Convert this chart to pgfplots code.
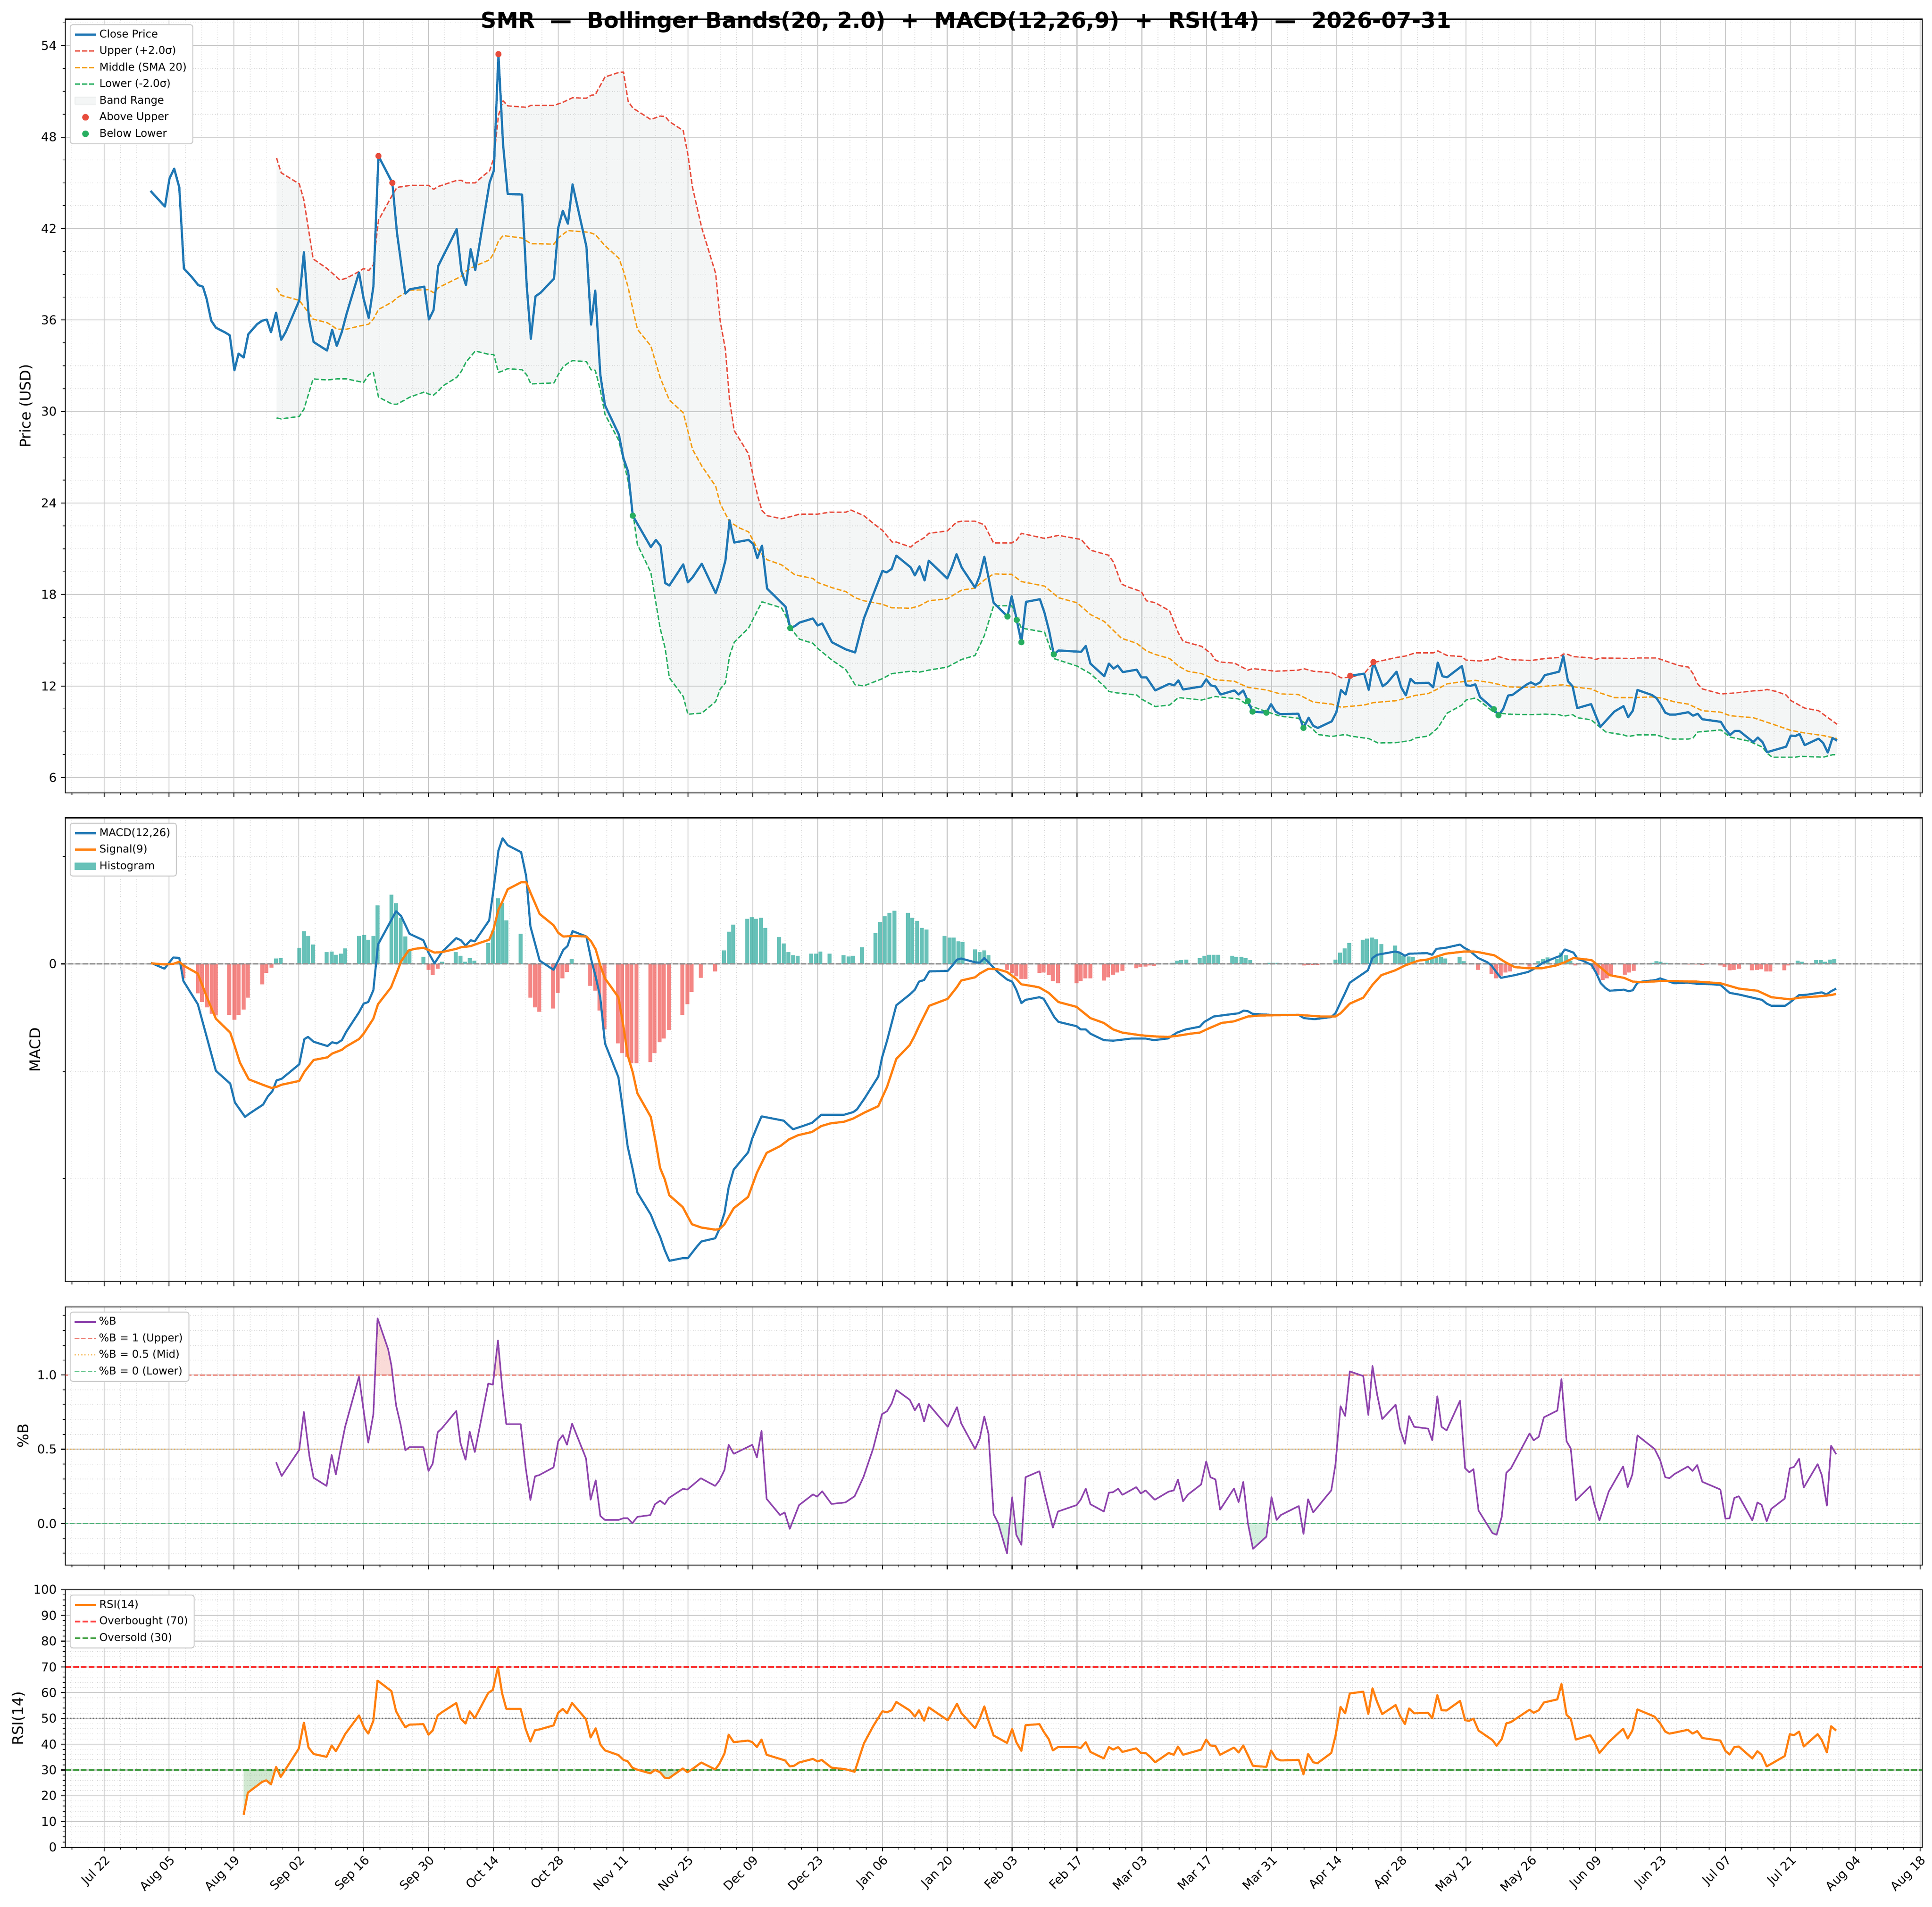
\documentclass[border=0pt]{standalone}
\usepackage{pgfplots}
\pgfplotsset{compat=1.18}
\usepgfplotslibrary{fillbetween}
\usepackage{fontspec}
\setmainfont{DejaVu Sans}

\definecolor{cblue}{HTML}{1F77B4}
\definecolor{corange}{HTML}{FF7F0E}
\definecolor{bred}{HTML}{E74C3C}
\definecolor{borange}{HTML}{F39C12}
\definecolor{bgreen}{HTML}{27AE60}
\definecolor{bandgray}{HTML}{95A5A6}
\definecolor{hteal}{HTML}{26A69A}
\definecolor{hred}{HTML}{EF5350}
\definecolor{purp}{HTML}{8E44AD}
\definecolor{mgreen}{HTML}{008000}

\pgfplotsset{
  base/.style={
    scale only axis, width=1514.9pt,
    xmin=-8.4, xmax=392.5,
    xtick={0,14,...,392},
    minor xtick={-7,-3.5,...,392},
    xticklabels={},
    tick align=outside, tick pos=left,
    major tick length=3.5pt, minor tick length=2pt,
    major tick style={black, line width=0.8pt},
    minor tick style={black, line width=0.6pt},
    grid=both,
    major grid style={black!20, line width=0.8pt},
    minor grid style={black!14, line width=0.5pt, dash pattern=on 0.6pt off 1.4pt},
    axis line style={line width=0.8pt},
    tick label style={font=\fontsize{10}{12}\selectfont},
    /pgf/number format/assume math mode=true,
    label style={font=\fontsize{12}{14}\selectfont},
    legend style={at={(0,1)}, anchor=north west, xshift=3.6pt, yshift=-4pt,
      font=\fontsize{8.7}{10.4}\selectfont, draw=black!20, line width=0.8pt,
      rounded corners=2pt, fill=white, row sep=1.4pt, inner xsep=3pt, inner ysep=2pt},
    legend cell align=left,
    every axis plot/.append style={line join=round},
  },
  bdash/.style={line width=1.1pt, dash pattern=on 4pt off 1.8pt},
}

\begin{document}
\begin{tikzpicture}

% ================= PRICE =================
\begin{axis}[base, at={(53.3pt,909.1pt)}, anchor=south west, height=631.1pt,
  ymin=5.0, ymax=55.73, ytick={6,12,...,54}, minor ytick={6,7.5,...,55.5},
  ylabel={Price (USD)}]
\addlegendimage{cblue, line width=1.8pt}\addlegendentry{Close Price}
\addlegendimage{bred, bdash}\addlegendentry{Upper (+2.0σ)}
\addlegendimage{borange, bdash}\addlegendentry{Middle (SMA 20)}
\addlegendimage{bgreen, bdash}\addlegendentry{Lower (-2.0σ)}
\addlegendimage{area legend, fill=bandgray!10, draw=bandgray!22, line width=0.6pt, rounded corners=0pt}\addlegendentry{Band Range}
\addlegendimage{only marks, mark=*, mark size=2.3pt, color=bred}\addlegendentry{Above Upper}
\addlegendimage{only marks, mark=*, mark size=2.3pt, color=bgreen}\addlegendentry{Below Lower}

\addplot[bred, bdash, name path=up, forget plot] coordinates {
(37.2,46.63) (38.2,45.66) (42.1,44.93) (43.1,43.87) (45.1,40.01) (48.1,39.38) (50.9,38.62) (52.3,38.75)
(55.0,39.18) (56.0,39.38) (57.1,39.25) (58.1,39.62) (59.2,42.54) (62.2,44.20) (63.2,44.70) (66.0,44.83)
(70.1,44.83) (71.1,44.57) (72.1,44.76) (76.1,45.16) (77.1,45.16) (78.1,45.00) (80.1,45.00) (82.1,45.53)
(83.2,45.79) (84.1,46.63) (85.1,49.42) (86.1,50.38) (87.1,50.05) (91.2,49.95) (92.1,50.08) (97.1,50.08)
(99.0,50.28) (101.1,50.58) (104.1,50.55) (105.1,50.74) (106.0,50.78) (108.1,51.94) (111.1,52.24) (112.1,52.27)
(113.1,50.35) (114.1,49.91) (118.0,49.15) (120.0,49.38) (121.1,49.35) (122.0,49.02) (125.0,48.42) (126.0,46.86)
(127.0,44.70) (129.0,42.04) (132.0,39.05) (133.0,35.90) (134.1,34.07) (135.0,30.75) (136.0,28.75) (139.1,27.22)
(140.1,25.76) (141.1,24.43) (142.0,23.50) (143.1,23.17) (146.2,22.97) (148.1,23.10) (150.1,23.27) (154.0,23.27)
(156.6,23.40) (160.1,23.40) (161.2,23.54) (164.0,23.17) (166.0,22.67) (168.0,22.21) (170.1,21.44) (171.0,21.44)
(174.1,21.11) (175.1,21.38) (177.1,21.74) (178.0,22.01) (182.0,22.17) (184.0,22.74) (185.1,22.81) (188.0,22.81)
(190.0,22.57) (192.0,21.38) (195.9,21.38) (197.0,21.58) (198.0,22.01) (203.0,21.68) (206.0,21.88) (210.9,21.61)
(212.9,20.91) (216.8,20.58) (217.9,20.12) (219.6,18.69) (220.8,18.52) (223.9,18.19) (225.0,17.59) (226.9,17.46)
(230.0,16.93) (231.9,15.47) (232.9,14.93) (236.9,14.60) (238.9,14.14) (239.9,13.70) (240.9,13.57) (244.0,13.50)
(246.9,13.04) (248.0,13.14) (250.9,13.04) (252.9,12.97) (257.8,13.04) (258.9,13.14) (261.0,12.97) (265.0,12.87)
(267.0,12.54) (269.0,12.57) (272.0,12.81) (274.0,13.54) (276.0,13.67) (279.0,13.87) (281.0,13.97) (283.0,14.17)
(286.9,14.17) (287.9,14.30) (289.9,14.00) (293.1,13.93) (294.0,13.70) (297.0,13.64) (300.0,13.77) (301.0,13.93)
(303.1,13.74) (308.0,13.67) (311.0,13.80) (314.1,13.87) (315.0,14.10) (316.0,14.07) (317.0,13.93) (321.0,13.84)
(322.0,13.74) (323.0,13.84) (330.0,13.80) (331.0,13.84) (335.1,13.84) (336.1,13.74) (338.0,13.54) (340.0,13.34)
(342.0,13.24) (343.0,12.81) (344.0,12.14) (345.0,11.81) (349.0,11.48) (352.0,11.54) (356.0,11.68) (358.0,11.71)
(359.0,11.77) (361.0,11.64) (363.1,11.41) (364.1,11.05) (367.1,10.55) (370.1,10.38) (371.1,10.15) (374.1,9.49)
};
\addplot[bgreen, bdash, name path=lo, forget plot] coordinates {
(37.2,29.58) (38.2,29.52) (42.1,29.68) (43.1,30.15) (45.1,32.14) (48.1,32.07) (50.2,32.14) (52.3,32.14)
(55.0,31.97) (56.0,31.91) (57.1,32.41) (58.1,32.57) (59.2,30.95) (62.2,30.48) (63.2,30.48) (66.0,30.95)
(69.1,31.28) (70.1,31.14) (71.1,31.08) (72.1,31.34) (73.1,31.68) (76.1,32.24) (77.1,32.64) (78.1,33.24)
(80.1,33.97) (83.2,33.74) (84.1,33.74) (85.1,32.57) (86.1,32.67) (87.1,32.81) (90.2,32.74) (91.2,32.41)
(92.1,31.81) (97.1,31.88) (98.0,32.41) (99.0,32.91) (100.1,33.17) (101.1,33.34) (104.1,33.27) (105.1,32.74)
(106.0,32.71) (107.1,31.41) (108.1,29.82) (111.1,28.09) (112.1,26.76) (113.1,25.43) (114.1,23.44) (115.1,21.28)
(118.0,19.45) (120.0,15.80) (121.1,14.47) (122.0,12.54) (125.0,11.31) (126.0,10.15) (129.0,10.22) (132.0,10.98)
(133.0,11.81) (134.1,12.21) (135.0,13.97) (136.0,14.87) (139.1,15.80) (140.1,16.40) (142.0,17.52) (146.2,17.13)
(147.1,16.63) (148.1,15.80) (150.1,15.07) (153.0,14.80) (154.0,14.47) (157.1,13.70) (160.1,13.07) (162.1,12.08)
(164.0,12.01) (168.0,12.48) (170.0,12.81) (174.1,12.97) (176.0,12.91) (178.0,13.04) (182.0,13.24) (185.1,13.74)
(188.0,14.00) (190.0,15.30) (192.0,17.26) (195.9,17.26) (198.0,15.80) (203.0,15.53) (205.0,13.80) (210.0,13.31)
(212.9,12.81) (215.9,11.98) (216.9,11.64) (218.8,11.54) (222.9,11.41) (223.9,11.15) (226.9,10.65) (230.0,10.75)
(231.9,11.24) (236.9,11.08) (239.9,11.31) (244.9,11.15) (246.9,10.75) (250.9,10.32) (253.9,10.02) (257.8,9.88)
(261.0,9.15) (262.0,8.82) (265.0,8.69) (268.0,8.82) (269.0,8.72) (273.0,8.55) (275.0,8.26) (279.0,8.29)
(282.0,8.42) (283.0,8.59) (285.9,8.72) (287.9,9.25) (289.9,10.22) (291.9,10.55) (293.1,10.75) (294.0,11.08)
(296.0,11.21) (297.0,11.01) (300.0,10.28) (303.1,10.15) (308.0,10.12) (311.0,10.15) (314.1,10.12) (315.0,10.02)
(317.0,10.12) (318.0,9.92) (321.0,9.78) (323.0,9.28) (324.2,8.98) (328.0,8.79) (329.0,8.69) (331.0,8.79)
(335.1,8.79) (338.0,8.52) (342.0,8.52) (343.0,8.59) (344.0,8.98) (349.0,9.12) (351.0,8.65) (355.0,8.39)
(358.0,7.99) (359.0,7.59) (360.1,7.33) (365.1,7.33) (366.1,7.39) (371.1,7.33) (373.1,7.49) (374.1,7.49)
};
\addplot[fill=bandgray, fill opacity=0.1, draw=none, forget plot] fill between[of=up and lo];
\addplot[borange, bdash, forget plot] coordinates {
(37.2,38.09) (38.2,37.62) (42.1,37.29) (43.1,36.89) (45.1,36.06) (48.1,35.83) (49.2,35.63) (50.2,35.40)
(52.3,35.40) (55.0,35.60) (57.1,35.73) (58.1,36.06) (59.2,36.69) (62.2,37.19) (63.2,37.46) (66.0,37.96)
(70.1,37.99) (71.1,37.79) (72.1,38.12) (76.1,38.72) (77.1,38.88) (78.1,39.22) (80.1,39.55) (83.2,39.95)
(84.1,40.38) (85.1,41.18) (86.1,41.54) (90.2,41.38) (92.1,41.01) (97.1,40.98) (98.0,41.38) (100.1,41.87)
(104.1,41.77) (105.1,41.71) (106.0,41.61) (108.1,40.88) (111.1,40.05) (112.1,39.22) (113.1,38.15) (114.1,36.73)
(115.1,35.40) (118.0,34.30) (120.0,32.24) (122.0,30.75) (125.0,29.92) (127.0,27.52) (129.0,26.43) (132.0,25.10)
(133.0,23.94) (135.0,22.77) (137.1,22.37) (139.1,22.11) (141.1,20.95) (143.1,20.28) (146.2,19.95) (149.1,19.29)
(153.0,19.05) (154.0,18.79) (157.1,18.45) (160.1,18.19) (162.1,17.79) (164.0,17.59) (168.0,17.36) (170.0,17.13)
(174.1,17.10) (176.0,17.26) (178.0,17.59) (182.0,17.72) (185.1,18.29) (188.0,18.42) (190.0,18.95) (192.0,19.35)
(195.9,19.32) (198.0,18.85) (203.0,18.55) (206.0,17.79) (210.0,17.46) (212.9,16.69) (215.9,16.23) (219.6,15.13)
(222.9,14.80) (225.0,14.30) (226.9,14.07) (230.0,13.80) (231.9,13.31) (233.9,12.97) (236.9,12.81) (239.9,12.41)
(244.0,12.31) (246.9,11.91) (250.9,11.74) (253.9,11.48) (257.8,11.44) (261.0,10.95) (265.0,10.81) (267.0,10.61)
(272.0,10.75) (274.0,10.91) (279.0,11.04) (281.0,11.21) (283.0,11.38) (285.9,11.51) (287.9,11.81) (289.9,12.14)
(293.1,12.28) (296.0,12.37) (299.0,12.24) (301.0,12.11) (303.1,11.94) (308.0,11.91) (311.0,11.98) (315.0,12.08)
(318.0,11.91) (321.0,11.81) (323.0,11.54) (326.0,11.24) (330.0,11.24) (334.1,11.28) (336.1,11.21) (339.1,10.95)
(342.0,10.81) (345.0,10.38) (349.0,10.28) (351.0,10.05) (356.0,9.92) (359.0,9.62) (364.1,9.09) (367.1,8.92)
(371.1,8.75) (374.1,8.55)
};
\addplot[cblue, line width=1.8pt, forget plot] coordinates {
(10.0,44.47) (13.1,43.44) (14.1,45.30) (15.1,45.93) (16.2,44.70) (17.2,39.38) (18.9,38.82) (20.3,38.29)
(21.3,38.19) (22.1,37.39) (23.1,35.96) (24.1,35.50) (26.2,35.17) (27.1,35.00) (28.1,32.71) (29.0,33.80)
(30.1,33.54) (31.1,35.07) (33.0,35.73) (34.1,35.96) (35.1,36.03) (36.0,35.20) (37.1,36.49) (38.2,34.70)
(39.2,35.23) (42.1,37.29) (43.1,40.45) (44.2,36.07) (45.2,34.56) (48.1,34.00) (49.2,35.37) (50.2,34.30)
(51.3,35.23) (52.3,36.39) (55.0,39.12) (56.0,37.39) (57.1,36.13) (58.1,38.19) (59.2,46.76) (62.2,45.00)
(63.2,41.71) (65.0,37.73) (66.0,38.02) (69.1,38.19) (70.1,36.03) (71.1,36.66) (72.1,39.55) (76.1,41.97)
(77.1,39.22) (78.1,38.29) (79.1,40.65) (80.1,39.28) (83.2,45.03) (84.1,45.79) (85.1,53.44) (86.1,47.52)
(87.1,44.27) (90.2,44.23) (91.2,38.29) (92.1,34.77) (93.1,37.56) (94.2,37.79) (97.1,38.72) (98.0,42.04)
(99.0,43.17) (100.1,42.31) (101.1,44.90) (104.1,40.81) (105.1,35.70) (106.0,37.93) (107.1,32.41) (108.1,30.41)
(111.1,28.49) (112.1,26.93) (113.1,26.06) (114.1,23.17) (118.0,21.11) (119.1,21.58) (120.1,21.18) (121.1,18.75)
(122.0,18.59) (125.0,19.98) (126.0,18.79) (127.0,19.12) (129.0,20.02) (132.0,18.09) (133.0,18.95) (134.1,20.22)
(135.0,22.87) (136.0,21.41) (139.1,21.58) (140.1,21.31) (141.0,20.38) (142.0,21.21) (143.1,18.39) (147.1,17.19)
(148.1,15.80) (149.1,15.93) (150.1,16.16) (153.0,16.43) (154.0,15.97) (155.0,16.10) (157.1,14.87) (160.1,14.40)
(162.1,14.20) (164.0,16.43) (168.0,19.55) (168.9,19.45) (170.0,19.68) (171.0,20.55) (174.1,19.78) (175.0,19.25)
(176.0,19.85) (177.1,18.92) (178.0,20.22) (182.0,19.05) (183.0,19.78) (184.0,20.65) (185.1,19.78) (188.0,18.45)
(189.0,19.22) (190.0,20.48) (192.0,17.46) (195.0,16.56) (195.9,17.89) (197.0,16.33) (198.0,14.87) (199.0,17.52)
(202.0,17.69) (203.0,16.79) (204.0,15.60) (205.0,14.07) (206.0,14.33) (210.9,14.24) (211.9,14.63) (212.9,13.47)
(215.9,12.64) (216.9,13.47) (217.9,13.14) (218.8,13.34) (219.9,12.91) (222.9,13.07) (223.9,12.57) (225.0,12.57)
(226.9,11.71) (229.9,12.14) (231.0,12.04) (231.9,12.37) (232.9,11.77) (236.9,11.97) (237.9,12.44) (238.9,12.04)
(239.9,11.97) (241.0,11.44) (244.0,11.71) (244.9,11.44) (245.9,11.71) (246.9,11.01) (247.9,10.32) (250.9,10.25)
(251.9,10.81) (252.9,10.32) (253.9,10.15) (257.8,10.18) (258.9,9.25) (260.0,9.92) (261.0,9.39) (262.0,9.25)
(265.0,9.68) (266.0,10.28) (267.0,11.74) (268.0,11.44) (269.0,12.67) (272.0,12.81) (273.0,11.74) (274.0,13.57)
(276.0,11.98) (277.0,12.21) (279.0,12.94) (280.0,11.91) (281.0,11.38) (282.0,12.47) (283.0,12.18) (285.9,12.21)
(286.9,11.91) (287.9,13.54) (288.9,12.64) (289.9,12.57) (293.1,13.31) (294.0,12.04) (295.0,12.01) (296.0,12.11)
(297.0,11.28) (299.0,10.75) (300.0,10.48) (301.0,10.08) (302.0,10.48) (303.1,11.38) (304.0,11.41) (307.0,12.08)
(308.0,12.24) (309.0,12.08) (310.0,12.24) (311.0,12.71) (314.1,12.94) (315.0,13.97) (316.0,12.31) (317.0,11.98)
(318.0,10.55) (321.0,10.81) (322.0,10.05) (323.0,9.32) (326.0,10.32) (328.0,10.68) (329.0,9.95) (330.0,10.38)
(331.0,11.74) (334.1,11.41) (335.1,11.21) (336.1,10.75) (337.0,10.25) (338.0,10.12) (339.1,10.12) (342.0,10.28)
(343.0,10.05) (344.0,10.18) (345.0,9.82) (349.0,9.65) (350.0,9.15) (351.0,8.79) (352.0,9.05) (353.0,9.05)
(356.0,8.32) (357.0,8.62) (358.0,8.32) (359.0,7.66) (363.1,8.02) (364.1,8.75) (365.1,8.72) (366.0,8.85)
(367.1,8.12) (370.1,8.55) (371.1,8.26) (372.1,7.63) (373.1,8.59) (374.1,8.42)
};
\addplot[only marks, mark=*, mark size=2.3pt, color=bred, forget plot] coordinates {
(59.2,46.76) (62.2,45.00) (85.1,53.44) (269.0,12.67) (274.0,13.57)};
\addplot[only marks, mark=*, mark size=2.3pt, color=bgreen, forget plot] coordinates {
(114.1,23.17) (148.1,15.80) (195.0,16.56) (197.0,16.33) (198.0,14.87) (205.0,14.07)
(246.9,11.01) (247.9,10.32) (250.9,10.25) (258.9,9.25) (300.0,10.48) (301.0,10.08)};
\end{axis}

% ================= MACD =================
\begin{axis}[base, at={(53.3pt,510.1pt)}, anchor=south west, height=378.5pt,
  ymin=-5.92, ymax=2.72, ytick={0}, minor ytick={2,-2,-4},
  ylabel={MACD}]
\addlegendimage{cblue, line width=1.8pt}\addlegendentry{MACD(12,26)}
\addlegendimage{corange, line width=1.8pt}\addlegendentry{Signal(9)}
\addlegendimage{area legend, fill=hteal!70, draw=hteal!70, line width=0.4pt, rounded corners=0pt}\addlegendentry{Histogram}

\addplot[ybar, bar width=0.85, bar shift=0pt, draw=none, fill=hteal, fill opacity=0.7, forget plot] coordinates {
(37.1,0.10) (38.1,0.11) (42.1,0.30) (43.1,0.61) (44.0,0.52) (45.1,0.36) (48.0,0.22) (49.1,0.23) (50.0,0.17)
(51.1,0.19) (52.0,0.29) (55.0,0.52) (56.1,0.54) (57.0,0.45) (58.1,0.52) (59.0,1.09) (62.0,1.29) (63.0,1.13)
(64.0,0.86) (65.0,0.51) (65.9,0.25) (68.9,0.13) (72.9,0.04) (75.9,0.22) (76.9,0.15) (77.9,0.04) (78.9,0.11)
(79.9,0.06) (82.9,0.39) (83.9,0.62) (85.0,1.22) (85.9,1.14) (86.8,0.81) (89.9,0.56) (100.9,0.09) (133.8,0.25)
(134.9,0.60) (135.8,0.73) (138.8,0.84) (139.8,0.87) (140.7,0.84) (141.8,0.86) (142.7,0.67) (145.7,0.50)
(146.7,0.38) (147.7,0.22) (148.7,0.16) (149.7,0.15) (152.6,0.19) (153.7,0.19) (154.6,0.23) (156.6,0.19)
(159.6,0.16) (160.7,0.14) (161.6,0.15) (163.6,0.31) (166.5,0.57) (167.5,0.78) (168.5,0.89) (169.5,0.95)
(170.6,0.99) (173.5,0.95) (174.4,0.86) (175.5,0.80) (176.5,0.67) (177.5,0.64) (181.4,0.52) (182.5,0.49)
(183.4,0.49) (184.4,0.42) (185.3,0.41) (188.0,0.27) (189.0,0.22) (190.0,0.25) (190.9,0.16) (230.6,0.02)
(231.6,0.06) (232.5,0.07) (233.6,0.08) (236.5,0.11) (237.5,0.15) (238.5,0.17) (239.5,0.17) (240.5,0.17)
(243.5,0.15) (244.4,0.13) (245.5,0.13) (246.4,0.11) (247.4,0.07) (251.4,0.02) (252.3,0.02) (253.3,0.02)
(265.8,0.08) (266.8,0.21) (267.8,0.29) (268.8,0.39) (271.7,0.45) (272.6,0.47) (273.7,0.49) (274.6,0.46)
(275.7,0.37) (278.7,0.34) (279.6,0.21) (280.5,0.15) (281.6,0.14) (282.5,0.13) (285.6,0.07) (286.6,0.10)
(287.6,0.12) (288.6,0.13) (289.5,0.10) (292.6,0.13) (293.5,0.05) (309.6,0.05) (310.6,0.09) (311.6,0.12)
(313.6,0.09) (314.5,0.21) (315.6,0.16) (316.5,0.06) (334.2,0.02) (335.1,0.05) (336.0,0.04) (337.1,0.02)
(365.6,0.06) (366.5,0.04) (369.6,0.07) (370.6,0.07) (371.5,0.04) (372.6,0.08) (373.5,0.09)
};
\addplot[ybar, bar width=0.85, bar shift=0pt, draw=none, fill=hred, fill opacity=0.7, forget plot] coordinates {
(17.1,-0.27) (20.2,-0.55) (21.1,-0.71) (22.2,-0.81) (23.2,-0.93) (24.1,-0.96) (27.0,-0.95) (28.1,-1.04)
(29.0,-0.95) (30.1,-0.85) (31.0,-0.63) (34.1,-0.38) (35.0,-0.17) (36.1,-0.07) (70.0,-0.11) (70.9,-0.21)
(72.0,-0.09) (92.0,-0.63) (93.0,-0.81) (93.9,-0.89) (96.9,-0.83) (97.9,-0.54) (98.9,-0.27) (99.9,-0.15)
(104.9,-0.41) (106.0,-0.50) (106.9,-0.87) (108.0,-1.22) (110.9,-1.48) (111.8,-1.66) (112.9,-1.73) (113.8,-1.85)
(114.9,-1.85) (117.9,-1.83) (118.8,-1.66) (119.9,-1.46) (120.8,-1.39) (121.9,-1.23) (124.8,-0.95) (125.9,-0.75)
(126.8,-0.52) (128.8,-0.26) (131.9,-0.14) (194.9,-0.11) (196.0,-0.17) (196.9,-0.23) (198.0,-0.28) (198.9,-0.28)
(201.9,-0.17) (202.8,-0.16) (203.9,-0.21) (204.8,-0.32) (205.9,-0.36) (209.9,-0.36) (210.8,-0.32) (211.8,-0.27)
(212.9,-0.27) (215.8,-0.31) (216.7,-0.25) (217.8,-0.20) (218.7,-0.16) (219.8,-0.13) (222.8,-0.08) (223.7,-0.06)
(224.8,-0.05) (225.7,-0.03) (226.6,-0.04) (259.0,-0.03) (259.9,-0.02) (260.9,-0.02) (261.9,-0.02) (296.6,-0.11)
(299.5,-0.19) (300.5,-0.27) (301.5,-0.22) (302.5,-0.16) (303.5,-0.14) (307.7,-0.05) (317.6,-0.03) (321.5,-0.09)
(322.4,-0.21) (323.5,-0.30) (324.4,-0.27) (325.3,-0.21) (328.3,-0.20) (329.2,-0.16) (330.2,-0.13) (341.0,-0.01)
(341.9,-0.01) (343.0,-0.01) (343.9,-0.01) (345.0,-0.02) (348.9,-0.03) (349.8,-0.06) (350.9,-0.12) (351.8,-0.11)
(352.9,-0.09) (355.7,-0.12) (356.8,-0.11) (357.7,-0.10) (358.8,-0.14) (359.7,-0.14) (362.7,-0.12) (363.6,-0.03)
};
\addplot[black!45, line width=1.1pt, dash pattern=on 4pt off 1.8pt, forget plot] coordinates {(-20,0) (400,0)};
\addplot[cblue, line width=1.7pt, forget plot] coordinates {
(10.1,0.02) (13.0,-0.09) (14.9,0.12) (16.2,0.11) (17.1,-0.32) (20.2,-0.75) (24.1,-1.99) (27.2,-2.23)
(28.2,-2.58) (30.4,-2.85) (31.3,-2.79) (34.3,-2.62) (35.3,-2.47) (36.3,-2.37) (37.2,-2.17) (38.3,-2.14)
(42.1,-1.87) (43.2,-1.40) (44.0,-1.36) (45.2,-1.45) (48.2,-1.53) (49.2,-1.46) (50.2,-1.48) (51.3,-1.42)
(52.2,-1.27) (55.0,-0.90) (56.0,-0.74) (57.0,-0.71) (58.1,-0.49) (59.1,0.36) (63.0,0.98) (64.1,0.89)
(65.9,0.56) (68.9,0.44) (70.0,0.21) (71.3,0.01) (72.9,0.22) (76.0,0.48) (77.0,0.44) (78.0,0.34)
(79.1,0.44) (80.0,0.42) (83.1,0.81) (84.0,1.36) (85.1,2.11) (86.0,2.34) (87.1,2.21) (90.0,2.08)
(91.1,1.63) (92.0,0.70) (94.0,0.06) (97.0,-0.11) (98.0,0.06) (99.1,0.26) (100.0,0.33) (101.1,0.61)
(104.1,0.51) (105.1,0.09) (106.1,-0.24) (107.1,-0.63) (108.1,-1.48) (111.0,-2.11) (112.1,-2.80) (113.0,-3.40)
(114.1,-3.83) (115.1,-4.26) (118.0,-4.67) (119.1,-4.91) (120.0,-5.08) (121.0,-5.33) (122.0,-5.53) (124.9,-5.48)
(126.0,-5.48) (127.9,-5.27) (128.9,-5.17) (131.9,-5.11) (132.8,-4.94) (133.9,-4.64) (134.8,-4.16) (135.9,-3.83)
(139.0,-3.51) (139.9,-3.25) (140.9,-3.04) (141.9,-2.84) (146.7,-2.92) (147.8,-3.01) (148.7,-3.08) (150.8,-3.02)
(152.8,-2.96) (154.8,-2.81) (159.7,-2.81) (161.7,-2.76) (162.5,-2.71) (164.1,-2.51) (167.1,-2.10) (167.9,-1.75)
(169.0,-1.43) (171.0,-0.77) (173.9,-0.57) (175.0,-0.48) (175.9,-0.33) (177.0,-0.30) (178.1,-0.14) (182.1,-0.13)
(183.1,-0.03) (184.1,0.08) (185.0,0.10) (188.0,0.03) (189.0,0.02) (190.0,0.11) (190.9,0.03) (192.9,-0.15)
(194.9,-0.29) (196.0,-0.33) (196.9,-0.48) (198.0,-0.73) (198.9,-0.67) (201.9,-0.62) (202.8,-0.65) (203.9,-0.81)
(205.1,-0.99) (206.0,-1.08) (209.9,-1.16) (210.8,-1.22) (211.9,-1.22) (212.9,-1.30) (215.8,-1.42) (217.8,-1.43)
(218.9,-1.42) (221.8,-1.39) (224.8,-1.39) (226.6,-1.42) (229.6,-1.39) (231.6,-1.28) (233.5,-1.22) (236.5,-1.17)
(237.5,-1.08) (239.5,-0.98) (242.1,-0.95) (244.9,-0.92) (246.0,-0.87) (246.9,-0.88) (247.9,-0.93) (251.9,-0.95)
(257.9,-0.95) (259.0,-1.01) (261.3,-1.03) (264.9,-0.99) (265.8,-0.92) (266.9,-0.72) (267.9,-0.54) (268.9,-0.35)
(272.8,-0.12) (273.8,0.11) (274.8,0.17) (278.7,0.23) (279.7,0.21) (280.8,0.15) (281.7,0.19) (285.6,0.20)
(286.7,0.17) (287.6,0.28) (289.6,0.30) (292.7,0.36) (293.6,0.30) (294.7,0.25) (296.6,0.11) (298.6,0.03)
(299.5,-0.03) (300.5,-0.15) (301.5,-0.26) (304.5,-0.21) (307.4,-0.15) (308.5,-0.10) (310.4,0.01) (311.4,0.05)
(313.4,0.12) (314.4,0.15) (315.3,0.27) (317.2,0.21) (318.1,0.09) (319.2,0.06) (321.1,-0.02) (322.1,-0.17)
(323.1,-0.36) (324.1,-0.45) (325.0,-0.50) (328.1,-0.48) (329.1,-0.51) (330.0,-0.49) (331.0,-0.35) (332.0,-0.33)
(335.0,-0.30) (335.9,-0.27) (337.9,-0.33) (338.9,-0.36) (341.9,-0.35) (343.8,-0.37) (344.9,-0.37) (348.9,-0.39)
(350.9,-0.54) (352.9,-0.57) (356.9,-0.65) (357.9,-0.67) (358.9,-0.74) (359.9,-0.78) (362.9,-0.78) (363.9,-0.72)
(365.9,-0.58) (366.8,-0.58) (367.9,-0.57) (370.8,-0.53) (371.8,-0.57) (372.8,-0.51) (373.9,-0.46)
};
\addplot[corange, line width=1.8pt, forget plot] coordinates {
(10.1,0.01) (13.0,-0.01) (14.9,0.00) (16.2,0.04) (17.1,-0.03) (20.2,-0.18) (22.2,-0.63) (24.1,-1.02)
(27.2,-1.28) (28.2,-1.54) (29.3,-1.84) (31.2,-2.15) (34.2,-2.25) (36.1,-2.31) (37.2,-2.29) (38.3,-2.25)
(42.1,-2.18) (43.2,-2.01) (45.2,-1.79) (48.2,-1.74) (49.2,-1.67) (51.3,-1.60) (52.2,-1.54) (55.0,-1.40)
(56.0,-1.30) (58.1,-1.02) (59.1,-0.75) (61.9,-0.44) (63.0,-0.20) (64.1,0.05) (65.7,0.25) (67.0,0.28)
(68.9,0.30) (70.0,0.26) (71.3,0.21) (72.9,0.22) (76.0,0.28) (77.0,0.31) (79.1,0.33) (80.0,0.36)
(83.1,0.45) (84.0,0.63) (85.1,1.01) (86.0,1.17) (87.1,1.39) (90.0,1.52) (91.1,1.52) (92.0,1.33)
(94.0,0.93) (97.0,0.72) (98.0,0.58) (99.1,0.51) (101.1,0.52) (104.1,0.51) (105.1,0.42) (106.1,0.27)
(107.1,-0.03) (108.1,-0.27) (111.0,-0.62) (112.1,-1.17) (113.0,-1.70) (114.1,-2.02) (115.1,-2.41) (118.0,-2.85)
(119.1,-3.34) (120.0,-3.80) (121.0,-4.01) (122.0,-4.31) (124.9,-4.53) (126.0,-4.71) (126.9,-4.85) (128.9,-4.91)
(131.9,-4.95) (132.8,-4.94) (133.9,-4.85) (135.9,-4.55) (139.0,-4.34) (140.9,-3.89) (143.0,-3.52) (146.0,-3.39)
(147.8,-3.27) (149.8,-3.19) (152.8,-3.13) (154.8,-3.02) (156.8,-2.97) (159.7,-2.94) (161.7,-2.88) (164.1,-2.77)
(167.1,-2.65) (169.0,-2.29) (171.0,-1.77) (173.9,-1.51) (175.0,-1.33) (175.9,-1.16) (178.1,-0.78) (182.1,-0.65)
(184.1,-0.43) (185.0,-0.31) (188.0,-0.25) (189.0,-0.18) (190.9,-0.09) (192.9,-0.10) (194.9,-0.15) (196.9,-0.28)
(198.0,-0.38) (200.8,-0.42) (201.9,-0.44) (203.9,-0.54) (206.0,-0.71) (209.9,-0.80) (212.9,-1.01) (215.8,-1.10)
(217.8,-1.22) (219.8,-1.28) (223.8,-1.33) (226.6,-1.35) (229.6,-1.36) (231.6,-1.34) (234.5,-1.30) (236.5,-1.28)
(238.5,-1.20) (241.2,-1.10) (243.9,-1.07) (246.9,-0.98) (249.9,-0.96) (257.9,-0.95) (262.6,-0.98) (265.8,-0.98)
(266.9,-0.92) (268.9,-0.74) (271.8,-0.63) (273.8,-0.39) (275.7,-0.21) (278.7,-0.12) (280.8,-0.03) (283.7,0.06)
(285.6,0.08) (289.6,0.19) (293.6,0.23) (295.6,0.23) (296.6,0.22) (300.1,0.16) (302.5,0.03) (304.5,-0.06)
(307.4,-0.08) (310.4,-0.08) (313.4,-0.03) (315.3,0.03) (317.2,0.11) (321.1,0.07) (323.1,-0.07) (325.0,-0.21)
(328.1,-0.26) (330.0,-0.33) (332.0,-0.34) (335.9,-0.32) (338.9,-0.32) (343.8,-0.33) (348.9,-0.36) (350.9,-0.41)
(352.9,-0.46) (356.9,-0.50) (359.9,-0.62) (363.9,-0.66) (365.9,-0.63) (370.8,-0.60) (372.8,-0.58) (373.9,-0.56)
};
\end{axis}

% ================= %B =================
\begin{axis}[base, at={(53.3pt,279.0pt)}, anchor=south west, height=210.7pt,
  ymin=-0.279, ymax=1.459, ytick={0,0.5,1}, yticklabels={0.0,0.5,1.0},
  minor ytick={-0.2,-0.1,...,1.41},
  ylabel={\%B}]
\addlegendimage{purp, line width=1.3pt}\addlegendentry{\%B}
\addlegendimage{bred, opacity=0.7, line width=1pt, dash pattern=on 3.7pt off 1.6pt}\addlegendentry{\%B = 1 (Upper)}
\addlegendimage{borange, opacity=0.6, line width=1pt, dash pattern=on 1pt off 1.65pt}\addlegendentry{\%B = 0.5 (Mid)}
\addlegendimage{bgreen, opacity=0.7, line width=1pt, dash pattern=on 3.7pt off 1.6pt}\addlegendentry{\%B = 0 (Lower)}

\addplot[draw=none, name path=one, forget plot] coordinates {(37.1,1) (373.9,1)};
\addplot[draw=none, name path=zero, forget plot] coordinates {(37.1,0) (373.9,0)};
\addplot[bred, opacity=0.7, line width=1pt, dash pattern=on 3.7pt off 1.6pt, forget plot] coordinates {(-20,1) (400,1)};
\addplot[borange, opacity=0.6, line width=1pt, dash pattern=on 1pt off 1.65pt, forget plot] coordinates {(-20,0.5) (400,0.5)};
\addplot[bgreen, opacity=0.7, line width=1pt, dash pattern=on 3.7pt off 1.6pt, forget plot] coordinates {(-20,0) (400,0)};
\addplot[purp, line width=1.3pt, name path=pb, forget plot] coordinates {
(37.1,0.412) (38.3,0.320) (42.1,0.496) (43.1,0.752) (44.3,0.451) (45.2,0.308) (48.0,0.253) (49.1,0.462)
(50.0,0.330) (51.1,0.512) (52.0,0.651) (55.0,0.990) (56.1,0.736) (57.0,0.544) (58.1,0.736) (59.0,1.381)
(61.3,1.172) (62.0,1.063) (63.0,0.796) (64.0,0.663) (65.0,0.493) (65.9,0.514) (68.9,0.514) (70.0,0.354)
(70.9,0.402) (72.0,0.615) (72.9,0.641) (76.0,0.758) (76.9,0.542) (78.0,0.429) (78.9,0.619) (80.0,0.481)
(82.9,0.942) (83.9,0.935) (85.0,1.233) (85.9,0.918) (86.8,0.669) (89.9,0.669) (91.0,0.372) (92.0,0.158)
(93.0,0.318) (93.9,0.326) (97.0,0.378) (98.0,0.554) (99.0,0.595) (99.9,0.530) (101.0,0.673) (104.0,0.439)
(105.0,0.160) (106.1,0.291) (107.1,0.051) (108.1,0.024) (111.0,0.024) (112.1,0.036) (113.0,0.036) (114.0,0.002)
(115.1,0.045) (117.9,0.057) (118.9,0.130) (120.0,0.154) (121.0,0.130) (121.9,0.172) (124.9,0.233) (125.9,0.229)
(128.8,0.305) (131.9,0.253) (132.8,0.290) (133.9,0.360) (134.8,0.530) (135.9,0.469) (139.9,0.530) (140.9,0.445)
(141.9,0.624) (143.0,0.166) (145.9,0.057) (146.9,0.075) (148.0,-0.036) (150.0,0.124) (153.0,0.196) (153.9,0.181)
(155.0,0.217) (157.0,0.132) (160.0,0.142) (162.0,0.184) (163.9,0.312) (166.0,0.505) (167.9,0.736) (169.0,0.756)
(170.0,0.808) (171.0,0.899) (173.9,0.833) (175.0,0.762) (175.9,0.808) (177.0,0.687) (178.0,0.802) (182.1,0.651)
(184.1,0.784) (185.0,0.675) (188.0,0.502) (189.0,0.572) (190.0,0.721) (190.9,0.602) (192.0,0.063) (193.0,0.002)
(194.9,-0.201) (196.0,0.178) (196.9,-0.076) (198.0,-0.143) (198.9,0.312) (201.9,0.352) (202.8,0.227) (204.8,-0.028)
(205.9,0.081) (209.9,0.124) (210.8,0.160) (211.9,0.235) (212.9,0.130) (215.8,0.081) (216.9,0.208) (217.8,0.211)
(218.9,0.235) (219.8,0.193) (222.8,0.245) (223.8,0.202) (224.8,0.223) (226.8,0.160) (229.8,0.215) (230.9,0.223)
(231.8,0.296) (232.9,0.150) (234.0,0.196) (236.8,0.263) (237.9,0.418) (238.8,0.312) (239.9,0.297) (240.9,0.093)
(243.9,0.236) (244.9,0.144) (245.9,0.281) (246.9,0.002) (248.0,-0.170) (250.9,-0.088) (252.0,0.178) (253.1,0.024)
(254.0,0.057) (257.9,0.118) (258.9,-0.070) (259.9,0.164) (261.0,0.075) (264.9,0.223) (265.8,0.396) (266.9,0.790)
(267.9,0.724) (268.9,1.024) (271.8,0.993) (272.9,0.730) (273.8,1.061) (274.8,0.869) (275.9,0.703) (278.8,0.800)
(279.7,0.639) (280.8,0.536) (281.7,0.724) (282.8,0.651) (285.8,0.639) (286.7,0.560) (287.8,0.857) (288.7,0.651)
(289.8,0.627) (292.7,0.827) (293.8,0.372) (294.7,0.345) (295.6,0.366) (296.7,0.087) (299.7,-0.064) (300.6,-0.076)
(301.7,0.045) (302.7,0.342) (303.7,0.372) (307.7,0.606) (308.6,0.560) (309.7,0.584) (310.8,0.715) (313.7,0.760)
(314.6,0.972) (315.7,0.554) (316.6,0.505) (317.7,0.156) (320.8,0.251) (321.7,0.130) (322.8,0.021) (324.8,0.215)
(327.9,0.384) (328.9,0.245) (329.9,0.330) (331.0,0.593) (334.7,0.502) (335.9,0.427) (337.0,0.312) (337.9,0.305)
(339.0,0.333) (341.9,0.384) (342.9,0.354) (343.9,0.394) (345.0,0.281) (348.9,0.229) (350.0,0.033) (350.9,0.035)
(351.9,0.172) (352.9,0.184) (355.8,0.021) (356.9,0.142) (357.8,0.126) (358.9,0.015) (359.9,0.099) (362.8,0.168)
(363.9,0.372) (364.8,0.381) (365.9,0.436) (366.9,0.242) (369.9,0.400) (370.8,0.326) (371.9,0.120) (372.8,0.524)
(373.9,0.467)
};
\addplot[fill=bred, fill opacity=0.2, draw=none, forget plot] fill between[of=pb and one, soft clip={domain=58.47:62.24}];
\addplot[fill=bred, fill opacity=0.2, draw=none, forget plot] fill between[of=pb and one, soft clip={domain=84.14:85.67}];
\addplot[fill=bred, fill opacity=0.2, draw=none, forget plot] fill between[of=pb and one, soft clip={domain=268.82:271.15}];
\addplot[fill=bred, fill opacity=0.2, draw=none, forget plot] fill between[of=pb and one, soft clip={domain=273.63:274.12}];
\addplot[fill=bgreen, fill opacity=0.2, draw=none, forget plot] fill between[of=pb and zero, soft clip={domain=147.64:148.45}];
\addplot[fill=bgreen, fill opacity=0.2, draw=none, forget plot] fill between[of=pb and zero, soft clip={domain=193.02:195.48}];
\addplot[fill=bgreen, fill opacity=0.2, draw=none, forget plot] fill between[of=pb and zero, soft clip={domain=196.63:198.28}];
\addplot[fill=bgreen, fill opacity=0.2, draw=none, forget plot] fill between[of=pb and zero, soft clip={domain=204.58:205.08}];
\addplot[fill=bgreen, fill opacity=0.2, draw=none, forget plot] fill between[of=pb and zero, soft clip={domain=246.91:251.26}];
\addplot[fill=bgreen, fill opacity=0.2, draw=none, forget plot] fill between[of=pb and zero, soft clip={domain=258.53:259.2}];
\addplot[fill=bgreen, fill opacity=0.2, draw=none, forget plot] fill between[of=pb and zero, soft clip={domain=298.43:301.29}];
\end{axis}

% ================= RSI =================
\begin{axis}[base, at={(53.3pt,48.7pt)}, anchor=south west, height=210.2pt,
  ymin=0, ymax=100, ytick={0,10,...,100}, minor ytick={0,2,...,100},
  xticklabels={Jul 22,Aug 05,Aug 19,Sep 02,Sep 16,Sep 30,Oct 14,Oct 28,Nov 11,Nov 25,Dec 09,Dec 23,Jan 06,Jan 20,Feb 03,Feb 17,Mar 03,Mar 17,Mar 31,Apr 14,Apr 28,May 12,May 26,Jun 09,Jun 23,Jul 07,Jul 21,Aug 04,Aug 18},
  xticklabel style={rotate=45, anchor=north east, inner sep=1.5pt},
  ylabel={RSI(14)}]
\addlegendimage{corange, line width=1.7pt}\addlegendentry{RSI(14)}
\addlegendimage{red, opacity=0.8, line width=1.2pt, dash pattern=on 4.4pt off 1.9pt}\addlegendentry{Overbought (70)}
\addlegendimage{mgreen, opacity=0.8, line width=1.2pt, dash pattern=on 4.4pt off 1.9pt}\addlegendentry{Oversold (30)}

\addplot[draw=none, name path=l30, forget plot] coordinates {(30.1,30) (373.9,30)};
\addplot[black!50, line width=1pt, dash pattern=on 1pt off 1.65pt, forget plot] coordinates {(-20,50) (400,50)};
\addplot[red, opacity=0.8, line width=1.2pt, dash pattern=on 4.4pt off 1.9pt, forget plot] coordinates {(-20,70) (400,70)};
\addplot[mgreen, opacity=0.8, line width=1.2pt, dash pattern=on 4.4pt off 1.9pt, forget plot] coordinates {(-20,30) (400,30)};
\addplot[corange, line width=1.7pt, name path=rsi, forget plot] coordinates {
(30.1,12.6) (31.0,21.2) (34.1,25.4) (35.0,26.0) (36.0,24.4) (37.1,31.2) (38.1,27.3) (42.0,38.3)
(43.1,48.4) (44.1,38.7) (45.2,36.2) (48.0,35.1) (49.1,39.5) (50.0,37.3) (51.1,40.8) (52.0,43.9)
(55.0,51.2) (56.1,46.4) (57.0,44.1) (58.1,49.1) (59.0,64.7) (62.0,60.6) (63.0,52.8) (64.0,49.5)
(65.0,46.6) (65.9,47.6) (68.9,47.8) (70.0,43.7) (70.9,45.3) (72.0,51.2) (72.9,52.4) (76.0,56.0)
(76.9,50.1) (78.0,48.0) (78.9,52.8) (80.0,50.1) (82.9,59.9) (83.9,61.1) (85.0,69.9) (85.9,59.7)
(86.8,53.7) (89.9,53.7) (91.0,45.8) (92.0,41.0) (93.0,45.5) (93.9,45.7) (97.0,47.3) (98.0,52.2)
(99.0,53.7) (99.9,52.0) (101.0,56.0) (104.0,49.7) (105.0,42.6) (106.1,46.2) (107.1,39.9) (108.1,37.6)
(111.0,35.8) (112.1,33.9) (113.0,33.4) (114.0,30.9) (115.1,30.1) (117.9,28.7) (118.9,30.0) (120.0,29.1)
(121.0,27.0) (121.9,26.8) (124.9,30.6) (125.9,29.1) (127.0,30.4) (128.9,32.9) (131.9,30.2) (132.8,32.4)
(133.9,36.4) (134.8,43.7) (135.9,40.8) (139.0,41.4) (139.9,40.8) (140.9,38.9) (141.9,41.8) (143.0,35.9)
(145.9,34.3) (147.0,33.7) (148.0,31.4) (148.9,31.6) (150.0,32.9) (153.0,34.3) (154.0,33.3) (154.9,33.9)
(157.0,30.9) (160.0,30.3) (161.0,29.8) (162.0,29.3) (164.0,40.3) (166.0,47.0) (168.0,52.8) (169.0,52.4)
(170.0,53.2) (171.0,56.4) (173.9,53.1) (175.0,50.7) (175.9,53.2) (177.0,49.1) (178.0,54.3) (182.1,49.3)
(184.1,55.7) (185.0,52.2) (188.0,46.2) (189.0,49.9) (190.0,54.7) (190.9,49.1) (192.0,43.4) (194.9,40.5)
(196.0,45.9) (196.9,40.8) (198.0,37.4) (198.9,47.4) (201.9,47.8) (202.8,44.9) (203.9,42.0) (204.8,37.6)
(205.9,38.9) (209.9,38.9) (210.8,38.5) (211.9,40.8) (212.9,37.0) (215.8,34.5) (216.9,38.9) (217.8,37.9)
(218.9,38.9) (219.8,37.0) (222.8,38.4) (223.8,36.6) (224.8,36.6) (225.8,35.1) (226.9,33.0) (229.8,36.6)
(230.9,35.9) (231.8,39.1) (232.9,35.9) (236.8,37.9) (237.9,41.8) (238.8,39.5) (239.9,39.3) (240.9,35.9)
(243.9,38.7) (244.9,36.8) (245.9,39.5) (248.0,31.6) (250.9,31.2) (251.9,37.6) (253.0,34.4) (254.0,33.7)
(257.9,33.9) (258.9,28.3) (259.9,36.2) (261.0,33.0) (261.9,32.6) (264.9,36.6) (265.8,43.1) (266.9,54.5)
(267.9,52.0) (268.9,59.7) (271.8,60.4) (272.9,51.7) (273.8,61.7) (274.8,56.4) (275.9,51.7) (278.8,55.2)
(279.7,51.2) (280.8,47.8) (281.7,53.9) (282.8,52.0) (285.8,52.2) (286.7,50.1) (287.8,59.1) (288.7,53.2)
(289.8,53.1) (292.7,56.8) (293.8,49.3) (294.7,49.1) (295.6,49.9) (296.7,45.3) (299.7,41.6) (300.6,39.4)
(301.7,42.0) (302.7,48.1) (303.7,48.6) (307.7,53.4) (308.6,52.2) (309.7,53.2) (310.8,56.2) (313.7,57.4)
(314.6,63.4) (315.7,51.4) (316.6,49.9) (317.7,41.8) (320.8,43.5) (321.7,40.9) (322.8,36.6) (324.8,40.8)
(327.9,46.0) (328.9,42.2) (329.9,45.3) (331.0,53.5) (334.7,50.7) (335.9,48.1) (337.0,44.9) (337.9,44.1)
(339.0,44.5) (341.9,45.6) (342.9,44.1) (343.9,45.1) (345.0,42.4) (348.9,41.4) (350.0,37.4) (350.9,36.0)
(351.9,38.9) (352.9,39.1) (355.8,34.5) (356.9,37.3) (357.8,35.9) (358.9,31.4) (359.9,32.4) (362.8,35.4)
(363.9,43.9) (364.8,43.5) (365.9,44.9) (366.9,39.1) (369.9,43.9) (370.8,41.6) (371.9,36.8) (372.8,47.0)
(373.9,45.3)
};
\addplot[fill=mgreen, fill opacity=0.18, draw=none, forget plot] fill between[of=rsi and l30, soft clip={domain=30.1:36.91}];
\addplot[fill=mgreen, fill opacity=0.18, draw=none, forget plot] fill between[of=rsi and l30, soft clip={domain=37.41:39.06}];
\addplot[fill=mgreen, fill opacity=0.18, draw=none, forget plot] fill between[of=rsi and l30, soft clip={domain=115.3:124.43}];
\addplot[fill=mgreen, fill opacity=0.18, draw=none, forget plot] fill between[of=rsi and l30, soft clip={domain=125.3:126.66}];
\addplot[fill=mgreen, fill opacity=0.18, draw=none, forget plot] fill between[of=rsi and l30, soft clip={domain=160.6:162.13}];
\addplot[fill=mgreen, fill opacity=0.18, draw=none, forget plot] fill between[of=rsi and l30, soft clip={domain=258.6:259.12}];
\end{axis}

\node[anchor=base, font=\fontsize{17.8}{21.4}\selectfont\bfseries] at (788.0pt,1533.2pt)
  {SMR~~—~~Bollinger Bands(20, 2.0)~~+~~MACD(12,26,9)~~+~~RSI(14)~~—~~2026-07-31};
\pgfresetboundingbox
\path[use as bounding box] (0pt,0pt) rectangle (1576.1pt,1555.9pt);
\end{tikzpicture}
\end{document}
